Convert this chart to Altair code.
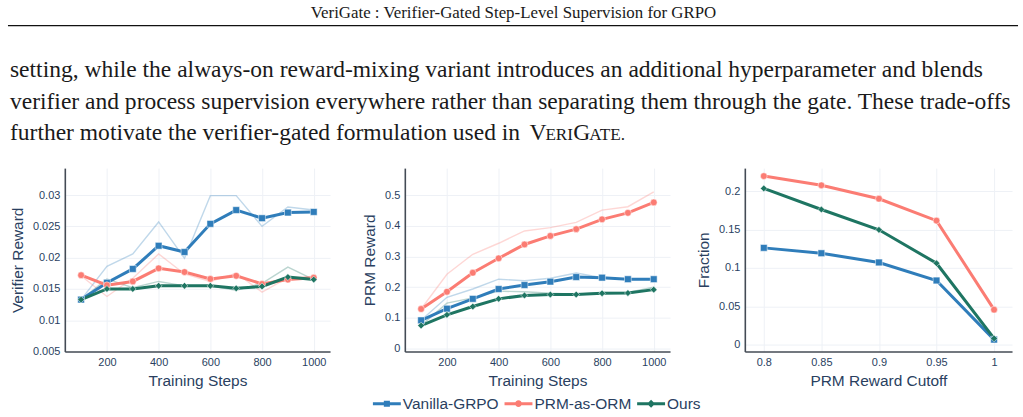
import altair as alt
import pandas as pd

# ---------------- data ----------------
SERIES = ["Vanilla-GRPO", "PRM-as-ORM", "Ours"]
COLORS = ["#2f7dba", "#fb7c73", "#1e7562"]
SHAPES = ["square", "circle", "diamond"]

header_text = "VeriGate : Verifier-Gated Step-Level Supervision for GRPO"
para_lines = [
    "setting, while the always-on reward-mixing variant introduces an additional hyperparameter and blends",
    "verifier and process supervision everywhere rather than separating them through the gate. These trade-offs",
    "further motivate the verifier-gated formulation used in",
]
smallcaps_parts = ["V", "ERI", "G", "ATE."]

steps = [100, 200, 300, 400, 500, 600, 700, 800, 900, 1000]

ver_raw_vanilla = [0.0133, 0.0186, 0.0206, 0.0257, 0.0199, 0.0299, 0.0299, 0.0250, 0.0281, 0.0276]
ver_smooth_vanilla = [0.0133, 0.0160, 0.0182, 0.0219, 0.0209, 0.0254, 0.0276, 0.0263, 0.0272, 0.0273]
ver_raw_prm = [0.0171, 0.0138, 0.0167, 0.0206, 0.0174, 0.0162, 0.0175, 0.0145, 0.0168, 0.0170]
ver_smooth_prm = [0.0172, 0.0156, 0.0162, 0.0183, 0.0177, 0.0166, 0.0171, 0.0158, 0.0165, 0.0168]
ver_raw_ours = [0.0133, 0.0166, 0.0152, 0.0162, 0.0155, 0.0155, 0.0148, 0.0159, 0.0185, 0.0165]
ver_smooth_ours = [0.0133, 0.0150, 0.0150, 0.0155, 0.0155, 0.0155, 0.0151, 0.0154, 0.0169, 0.0165]

prm_raw_vanilla = [0.092, 0.167, 0.194, 0.226, 0.221, 0.229, 0.246, 0.231, 0.224, 0.226]
prm_smooth_vanilla = [0.092, 0.130, 0.162, 0.194, 0.207, 0.218, 0.233, 0.231, 0.226, 0.226]
prm_raw_prm = [0.129, 0.242, 0.307, 0.343, 0.383, 0.394, 0.411, 0.451, 0.462, 0.510]
prm_smooth_prm = [0.129, 0.185, 0.247, 0.294, 0.339, 0.367, 0.389, 0.421, 0.442, 0.476]
prm_raw_ours = [0.075, 0.148, 0.165, 0.187, 0.185, 0.180, 0.177, 0.183, 0.183, 0.200]
prm_smooth_ours = [0.075, 0.110, 0.137, 0.162, 0.173, 0.176, 0.176, 0.180, 0.181, 0.192]

cutoffs = [0.8, 0.85, 0.9, 0.95, 1.0]
frac_vanilla = [0.126, 0.119, 0.107, 0.0835, 0.0065]
frac_prm = [0.2195, 0.2075, 0.190, 0.1615, 0.0455]
frac_ours = [0.2035, 0.176, 0.1495, 0.106, 0.008]

ver_ticks = [0.005, 0.01, 0.015, 0.02, 0.025, 0.03]
prm_ticks = [0, 0.1, 0.2, 0.3, 0.4, 0.5]
frac_ticks = [0, 0.05, 0.1, 0.15, 0.2]
step_ticks = [200, 400, 600, 800, 1000]


def long_frame(x, raws, smooths):
    rows = []
    for name, r, s in zip(SERIES, raws, smooths):
        for xi, ri, si in zip(x, r, s):
            rows.append({"x": xi, "raw": ri, "value": si, "series": name})
    return pd.DataFrame(rows)


df_ver = long_frame(steps, [ver_raw_vanilla, ver_raw_prm, ver_raw_ours],
                    [ver_smooth_vanilla, ver_smooth_prm, ver_smooth_ours])
df_prm = long_frame(steps, [prm_raw_vanilla, prm_raw_prm, prm_raw_ours],
                    [prm_smooth_vanilla, prm_smooth_prm, prm_smooth_ours])
df_frac = long_frame(cutoffs, [frac_vanilla, frac_prm, frac_ours],
                     [frac_vanilla, frac_prm, frac_ours])

# ---------------- style ----------------
TXT = "#2a3f5f"
SANS = "Liberation Sans"
SERIF = "Liberation Serif"

LINE_P = "M-1.75,-0.19H1.75V0.19H-1.75Z "
SYM_PATHS = [
    LINE_P + "M-0.38,-0.38H0.38V0.38H-0.38Z",
    LINE_P + "M-0.42,0A0.42,0.42,0,1,1,0.42,0A0.42,0.42,0,1,1,-0.42,0Z",
    LINE_P + "M0,-0.5L0.5,0L0,0.5L-0.5,0Z",
]

legend = alt.Legend(
    orient="none", legendX=377, legendY=396, direction="horizontal", title=None,
    symbolSize=256, symbolStrokeWidth=0, symbolOpacity=1,
    labelFont=SANS, labelFontSize=15.5, labelColor=TXT, labelOffset=8, columnPadding=5,
)


def panel(df, xdom, xticks, ydom, yticks, xtitle, ytitle, width, raw=True, with_legend=False):
    xenc = alt.X("x:Q", scale=alt.Scale(domain=xdom, nice=False, zero=False),
                 axis=alt.Axis(values=xticks, format="~r", title=xtitle))
    yscale = alt.Scale(domain=ydom, nice=False, zero=False)
    yaxis = alt.Axis(values=yticks, format="~r", title=ytitle)
    base = alt.Chart(df)
    layers = []
    if raw:
        for name, col in zip(SERIES, COLORS):
            layers.append(base.transform_filter(alt.datum.series == name).mark_line(
                strokeWidth=1.4, opacity=0.3, color=col).encode(
                x=xenc, y=alt.Y("raw:Q", scale=yscale, axis=yaxis)))
    for name, col in zip(SERIES, COLORS):
        layers.append(base.transform_filter(alt.datum.series == name).mark_line(
            strokeWidth=3, color=col).encode(
            x=xenc, y=alt.Y("value:Q", scale=yscale, axis=yaxis)))
    for name, col, shp in zip(SERIES, COLORS, SHAPES):
        layers.append(base.transform_filter(alt.datum.series == name).mark_point(
            filled=True, size=46, opacity=1, shape=shp, color=col, stroke="white", strokeWidth=0.5
        ).encode(x=xenc, y=alt.Y("value:Q", scale=yscale, axis=yaxis)))
    if with_legend:
        layers.append(base.transform_filter("false").mark_point(filled=True, opacity=1).encode(
            x=xenc, y=alt.Y("value:Q", scale=yscale, axis=yaxis),
            color=alt.Color("series:N", scale=alt.Scale(domain=SERIES, range=COLORS), legend=legend),
            shape=alt.Shape("series:N", scale=alt.Scale(domain=SERIES, range=SYM_PATHS),
                            legend=legend)))
    return alt.layer(*layers).properties(width=width, height=184)


p1 = panel(df_ver, [37, 1063], step_ticks, [0.005, 0.0343], ver_ticks,
           "Training Steps", "Verifier Reward", 266, with_legend=True)
p2 = panel(df_prm, [37, 1063], step_ticks, [-0.0097, 0.5877], prm_ticks,
           "Training Steps", "PRM Reward", 266)
p3 = panel(df_frac, [0.7835, 1.0156], cutoffs, [-0.0091, 0.2299], frac_ticks,
           "PRM Reward Cutoff", "Fraction", 268, raw=False)

# ---------------- page header text ----------------
one = pd.DataFrame({"t": [header_text]})
hdr = alt.Chart(one).mark_text(font=SERIF, fontSize=16.9, align="center", baseline="alphabetic",
                               color="#1a1a1a").encode(text="t:N", x=alt.value(512), y=alt.value(17))
rule = alt.Chart(one).mark_rule(color="#111", strokeWidth=1.3).encode(
    x=alt.value(5), x2=alt.value(1018), y=alt.value(25))
para_layers = []
for line, yb in zip(para_lines, [77, 108.5, 139.5]):
    d = pd.DataFrame({"t": [line]})
    para_layers.append(alt.Chart(d).mark_text(font=SERIF, fontSize=23.6, align="left",
                                              baseline="alphabetic", color="#1a1a1a")
                       .encode(text="t:N", x=alt.value(7), y=alt.value(yb)))
sc_x = [528, 544, 572, 588]
sc_size = [23.6, 17.2, 23.6, 17.2]
for part, px, fs in zip(smallcaps_parts, sc_x, sc_size):
    d = pd.DataFrame({"t": [part]})
    para_layers.append(alt.Chart(d).mark_text(font=SERIF, fontSize=fs, align="left",
                                              baseline="alphabetic", color="#1a1a1a")
                       .encode(text="t:N", x=alt.value(px), y=alt.value(139.5)))

header = alt.layer(hdr, rule, *para_layers).properties(width=1023, height=168)

spacer = alt.Chart(one).mark_point(opacity=0).encode(
    x=alt.value(0), y=alt.value(0)).properties(width=62, height=184)

panels = alt.hconcat(p1, p2, p3, spacing=75, bounds="flush")
row = alt.hconcat(spacer, panels, spacing=0, bounds="flush")

chart = alt.vconcat(header, row, spacing=0, bounds="flush").properties(
    padding=0, background="white"
).configure_view(strokeWidth=0).configure_axis(
    labelFont=SANS, labelFontSize=11, labelColor=TXT, labelPadding=5,
    titleFont=SANS, titleFontSize=15.5, titleFontWeight="normal", titleColor=TXT,
    titlePadding=6, ticks=False, domainColor="#444b55", domainWidth=1.6,
    grid=True, gridColor="#eef1f6", gridWidth=1,
).configure_axisY(titlePadding=7)

chart.save("out.html", embed_options={"renderer": "svg", "actions": False})
